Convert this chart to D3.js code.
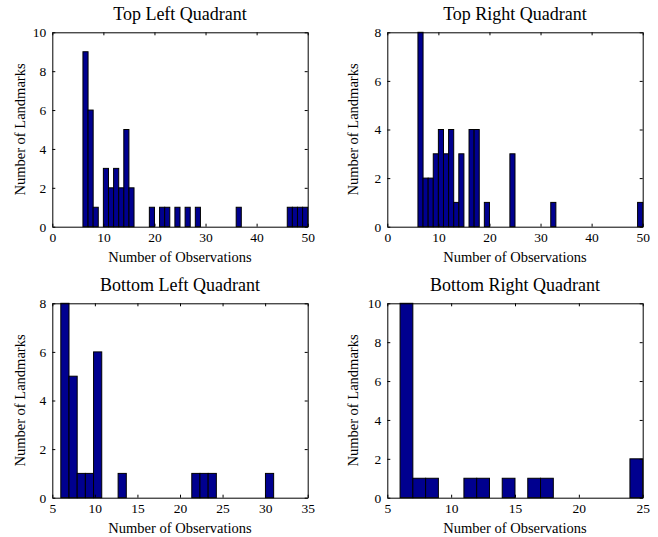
<!DOCTYPE html>
<html>
<head>
<meta charset="utf-8">
<script src="https://cdn.jsdelivr.net/npm/d3@7"></script>
<style>
  body { margin: 0; background: #fff; }
  svg { display: block; }
  text { font-family: "Liberation Serif", "Times New Roman", serif; fill: #000; }
</style>
</head>
<body>
<div id="chart"></div>
<script>
// histogram counts, one value per bin; bins span [min, max] evenly
const topLeftCounts = [9, 6, 1, 0, 3, 2, 3, 2, 5, 2,
  0, 0, 0, 1, 0, 1, 1, 0, 1, 0,
  1, 0, 1, 0, 0, 0, 0, 0, 0, 0,
  1, 0, 0, 0, 0, 0, 0, 0, 0, 0,
  1, 1, 1, 1];
const topLeftRange = [6, 50];

const topRightCounts = [8, 2, 2, 3, 4, 3, 4, 1, 3, 0,
  4, 4, 0, 1, 0, 0, 0, 0, 3, 0,
  0, 0, 0, 0, 0, 0, 1, 0, 0, 0,
  0, 0, 0, 0, 0, 0, 0, 0, 0, 0,
  0, 0, 0, 1];
const topRightRange = [6, 50];

const bottomLeftCounts = [8, 5, 1, 1, 6, 0, 0, 1, 0, 0, 0, 0, 0,
  0, 0, 0, 1, 1, 1, 0, 0, 0, 0, 0, 0, 1];
const bottomLeftRange = [6, 31];

const bottomRightCounts = [10, 1, 1, 0, 0, 1, 1, 0, 1, 0,
  1, 1, 0, 0, 0, 0, 0, 0, 2];
const bottomRightRange = [6, 25];

const titles = ["Top Left Quadrant", "Top Right Quadrant", "Bottom Left Quadrant", "Bottom Right Quadrant"];
const xDomains = [[0, 50], [0, 50], [5, 35], [5, 25]];
const yDomains = [[0, 10], [0, 8], [0, 8], [0, 10]];
const xTicks = [[0, 10, 20, 30, 40, 50], [0, 10, 20, 30, 40, 50], [5, 10, 15, 20, 25, 30, 35], [5, 10, 15, 20, 25]];
const yTicks = [[0, 2, 4, 6, 8, 10], [0, 2, 4, 6, 8], [0, 2, 4, 6, 8], [0, 2, 4, 6, 8, 10]];
const xLabel = "Number of Observations";
const yLabel = "Number of Landmarks";

const width = 658, height = 537;
const barColor = "#00008f";

const svg = d3.select("#chart").append("svg")
  .attr("width", width)
  .attr("height", height);

// axes boxes (left, top) for each panel
const boxW = 255.4, boxH = 194.4;
const boxes = [[52.3, 32.3], [387.3, 32.3], [52.3, 303.3], [387.3, 303.3]];

const panels = [
  { counts: topLeftCounts, range: topLeftRange },
  { counts: topRightCounts, range: topRightRange },
  { counts: bottomLeftCounts, range: bottomLeftRange },
  { counts: bottomRightCounts, range: bottomRightRange }
];

panels.forEach(function(pn, i) {
  const [bx, by] = boxes[i];
  const g = svg.append("g").attr("transform", `translate(${bx},${by})`);

  const x = d3.scaleLinear().domain(xDomains[i]).range([0, boxW]);
  const y = d3.scaleLinear().domain(yDomains[i]).range([boxH, 0]);

  const n = pn.counts.length;
  const step = (pn.range[1] - pn.range[0]) / n;
  const bins = pn.counts.map((c, k) => ({
    x0: pn.range[0] + k * step,
    x1: pn.range[0] + (k + 1) * step,
    c: c
  })).filter(d => d.c > 0);

  g.selectAll("rect.bar")
    .data(bins)
    .join("rect")
    .attr("class", "bar")
    .attr("x", d => x(d.x0))
    .attr("y", d => y(d.c))
    .attr("width", d => x(d.x1) - x(d.x0))
    .attr("height", d => y(0) - y(d.c))
    .attr("fill", barColor)
    .attr("stroke", "#000")
    .attr("stroke-width", 1);

  // inward ticks on all four sides, labels on bottom and left
  const tk = 3;
  const axB = g.append("g").attr("transform", `translate(0,${boxH})`)
    .call(d3.axisBottom(x).tickValues(xTicks[i]).tickSize(-tk).tickSizeOuter(0).tickPadding(6));
  const axL = g.append("g")
    .call(d3.axisLeft(y).tickValues(yTicks[i]).tickSize(-tk).tickSizeOuter(0).tickPadding(6));
  const axT = g.append("g")
    .call(d3.axisTop(x).tickValues(xTicks[i]).tickSize(-tk).tickSizeOuter(0).tickFormat(""));
  const axR = g.append("g").attr("transform", `translate(${boxW},0)`)
    .call(d3.axisRight(y).tickValues(yTicks[i]).tickSize(-tk).tickSizeOuter(0).tickFormat(""));

  [axB, axL, axT, axR].forEach(a => {
    a.selectAll("text").style("font-size", "13.5px").attr("fill", "#000")
      .style("font-family", '"Liberation Serif", "Times New Roman", serif');
    a.selectAll("line").attr("stroke", "#000");
    a.select(".domain").attr("stroke", "#000");
  });

  g.append("text")
    .attr("x", boxW / 2)
    .attr("y", -12)
    .attr("text-anchor", "middle")
    .style("font-size", "18px")
    .text(titles[i]);

  g.append("text")
    .attr("x", boxW / 2)
    .attr("y", boxH + 35)
    .attr("text-anchor", "middle")
    .style("font-size", "14.5px")
    .text(xLabel);

  g.append("text")
    .attr("transform", `translate(${-bx + (i % 2 === 0 ? 25 : 25 + 333)},${boxH / 2}) rotate(-90)`)
    .attr("text-anchor", "middle")
    .style("font-size", "14.5px")
    .text(yLabel);
});
</script>
</body>
</html>
